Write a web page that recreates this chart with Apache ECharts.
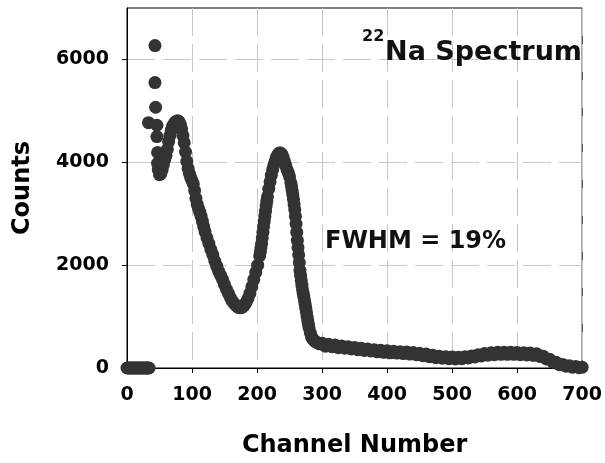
<!DOCTYPE html>
<html>
<head>
<meta charset="utf-8">
<script src="https://cdn.jsdelivr.net/npm/echarts@6/dist/echarts.min.js"></script>
<style>
html, body { margin: 0; padding: 0; background: #fff; }
#chart { width: 605px; height: 463px; }
</style>
</head>
<body>
<div id="chart"></div>
<script>
// channel numbers and counts
var channels = [
	0, 2, 4, 6, 8, 10, 12, 14, 16, 18, 20, 22, 24, 26, 28, 30, 32, 34,
	33, 43, 43, 44, 46, 46, 47, 47, 48, 50,
	52, 54, 56, 58, 60, 62, 64, 66, 68, 70, 72, 74, 76, 78,
	80, 82, 84, 86, 88, 90, 92, 94, 96, 98, 100, 102, 104, 106, 108, 110, 112, 114, 116, 118, 120,
	123, 126, 129, 132, 135, 138, 141, 144, 147, 150, 153, 156, 159, 162, 165, 168, 171, 174,
	177, 180, 183, 186, 189, 192, 195, 198, 201, 204, 205, 206, 207, 208, 209, 210, 211, 212, 213, 214, 215, 216,
	218, 220, 222, 224, 226, 228, 230, 232, 234, 236, 238, 240, 242, 244, 246, 248, 250,
	252, 253, 254, 255, 256, 257, 258, 259, 260, 261, 262, 263, 264, 265, 266, 267, 268, 269, 270,
	271, 272, 273, 274, 275, 276, 277, 278, 279, 280, 282, 284, 286, 288, 290, 293, 296,
	300, 305, 310, 315, 320, 325, 330, 335, 340, 345, 350, 355, 360, 365, 370, 375, 380, 385, 390, 395,
	400, 405, 410, 415, 420, 425, 430, 435, 440, 445, 450, 455, 460, 465, 470, 475, 480, 485, 490, 495,
	500, 505, 510, 515, 520, 525, 530, 535, 540, 545, 550, 555, 560, 565, 570, 575, 580, 585, 590, 595,
	600, 605, 610, 615, 620, 625, 630, 635, 640, 645, 650, 655, 660, 665, 670, 675, 680, 685, 690, 695, 700
];
var counts = [
	0, 0, 0, 0, 0, 0, 0, 0, 0, 0, 0, 0, 0, 0, 0, 0, 0, 0,
	4770, 6270, 5550, 5070, 4720, 4500, 4190, 3980, 3860, 3760,
	3780, 3850, 3950, 4050, 4130, 4250, 4400, 4520, 4620, 4700, 4740, 4780, 4800, 4810,
	4790, 4740, 4650, 4520, 4380, 4200, 4020, 3880, 3780, 3700, 3640, 3580, 3450, 3300, 3180, 3100, 3030, 2950, 2850, 2750, 2650,
	2530, 2420, 2300, 2200, 2080, 1980, 1880, 1800, 1720, 1620, 1530, 1450, 1370, 1300, 1250, 1210, 1180, 1170,
	1180, 1210, 1270, 1350, 1450, 1580, 1720, 1860, 2000, 2180, 2260, 2340, 2420, 2530, 2640, 2750, 2850, 2950, 3050, 3150, 3240, 3330,
	3480, 3620, 3750, 3860, 3950, 4030, 4100, 4150, 4180, 4180, 4160, 4100, 4020, 3940, 3860, 3800, 3720,
	3600, 3530, 3450, 3370, 3280, 3180, 3080, 2950, 2800, 2640, 2480, 2340, 2200, 2050, 1900, 1800, 1700, 1610, 1520,
	1450, 1380, 1310, 1240, 1160, 1080, 1000, 920, 850, 780, 680, 600, 560, 530, 510, 490, 470,
	480, 425, 460, 415, 445, 395, 430, 385, 415, 370, 400, 355, 385, 340, 370, 330, 355, 315, 345, 305,
	335, 295, 325, 290, 315, 280, 310, 270, 300, 260, 285, 240, 270, 220, 250, 200, 230, 190, 220, 180,
	215, 175, 210, 180, 220, 195, 235, 215, 260, 235, 280, 250, 295, 260, 305, 265, 305, 265, 305, 265,
	300, 260, 295, 255, 290, 245, 275, 225, 230, 175, 170, 115, 110, 65, 70, 35, 45, 15, 30, 5, 15
];
var yTicks = [0, 2000, 4000, 6000];

var points = [];
for (var i = 0; i < channels.length; i++) {
	points.push([channels[i], counts[i]]);
}

var myChart = echarts.init(document.getElementById('chart'));
var boldFont = {
	fontFamily: 'DejaVu Sans',
	fontWeight: 'bold',
	color: '#000'
};
var gridDash = {
	show: true,
	lineStyle: { color: '#c8c8c8', width: 1, type: [28, 8] }
};

myChart.setOption({
	animation: false,
	backgroundColor: '#fff',
	grid: {
		left: 127,
		right: 22,
		top: 8,
		bottom: 92,
		show: true,
		borderColor: '#000',
		borderWidth: 1
	},
	xAxis: {
		type: 'value',
		min: 0,
		max: 700,
		interval: 100,
		name: 'Channel Number',
		nameLocation: 'middle',
		nameGap: 66,
		nameTextStyle: Object.assign({ fontSize: 24 }, boldFont),
		axisLine: { lineStyle: { color: '#000', width: 1 } },
		axisTick: { show: true, length: 5, lineStyle: { color: '#000' } },
		axisLabel: Object.assign({ fontSize: 19, margin: 18 }, boldFont),
		splitLine: gridDash
	},
	yAxis: {
		type: 'value',
		min: 0,
		max: 7000,
		interval: 2000,
		name: 'Counts',
		nameLocation: 'middle',
		nameGap: 92,
		nameTextStyle: Object.assign({ fontSize: 24 }, boldFont),
		axisLine: { show: true, lineStyle: { color: '#000', width: 1 } },
		axisTick: { show: true, length: 5, lineStyle: { color: '#000' }, customValues: yTicks },
		axisLabel: Object.assign({
			fontSize: 19,
			margin: 18,
			customValues: yTicks,
			formatter: function (v) { return String(v); }
		}, boldFont),
		splitLine: gridDash
	},
	graphic: [
		{
			type: 'text',
			left: 362,
			top: 29,
			z: 100,
			style: { text: '22', font: 'bold 16px "DejaVu Sans"', fill: '#111' }
		},
		{
			type: 'text',
			right: 23,
			top: 39,
			z: 100,
			style: { text: 'Na Spectrum', font: 'bold 27px "DejaVu Sans"', fill: '#111' }
		},
		{
			type: 'text',
			left: 325,
			top: 230,
			z: 100,
			style: { text: 'FWHM = 19%', font: 'bold 24px "DejaVu Sans"', fill: '#111' }
		}
	],
	series: [
		{
			name: 'Counts',
			type: 'scatter',
			symbol: 'circle',
			symbolSize: 13,
			itemStyle: { color: '#333333', opacity: 1 },
			data: points
		}
	]
});
</script>
</body>
</html>
